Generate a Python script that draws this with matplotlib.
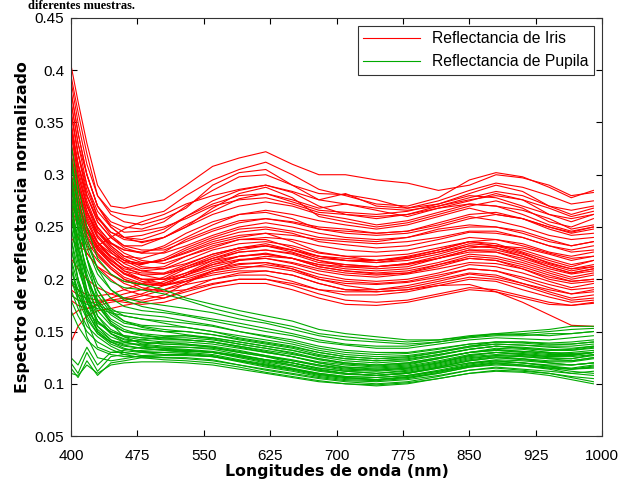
import numpy as np
import matplotlib
matplotlib.use("Agg")
import matplotlib.pyplot as plt

wl = [400, 408, 418, 430, 445, 460, 480, 505, 530, 560, 590, 620,
      650, 680, 710, 745, 780, 815, 850, 880, 910, 940, 965, 990]

# iris reflectance curves
iris = [
    [0.405, 0.37, 0.33, 0.29, 0.27, 0.268, 0.272, 0.276, 0.29, 0.308, 0.316, 0.322, 0.31, 0.30, 0.30, 0.295, 0.292, 0.285, 0.29, 0.30, 0.297, 0.29, 0.28, 0.283],
    [0.39, 0.35, 0.31, 0.28, 0.265, 0.262, 0.26, 0.265, 0.28, 0.295, 0.305, 0.312, 0.30, 0.286, 0.28, 0.272, 0.27, 0.278, 0.295, 0.302, 0.298, 0.288, 0.278, 0.285],
    [0.37, 0.33, 0.30, 0.27, 0.255, 0.25, 0.248, 0.255, 0.27, 0.285, 0.298, 0.30, 0.29, 0.282, 0.281, 0.276, 0.268, 0.275, 0.285, 0.292, 0.288, 0.28, 0.272, 0.275],
    [0.36, 0.32, 0.29, 0.265, 0.25, 0.24, 0.238, 0.245, 0.26, 0.275, 0.285, 0.29, 0.283, 0.27, 0.262, 0.258, 0.262, 0.27, 0.278, 0.284, 0.28, 0.27, 0.262, 0.268],
    [0.35, 0.31, 0.28, 0.255, 0.24, 0.232, 0.232, 0.24, 0.252, 0.265, 0.277, 0.282, 0.276, 0.268, 0.272, 0.266, 0.26, 0.268, 0.275, 0.282, 0.276, 0.262, 0.255, 0.262],
    [0.38, 0.34, 0.30, 0.27, 0.25, 0.24, 0.235, 0.24, 0.25, 0.262, 0.27, 0.274, 0.27, 0.262, 0.258, 0.252, 0.256, 0.264, 0.272, 0.27, 0.266, 0.258, 0.248, 0.252],
    [0.34, 0.30, 0.27, 0.25, 0.235, 0.228, 0.225, 0.232, 0.244, 0.255, 0.262, 0.266, 0.262, 0.256, 0.252, 0.248, 0.252, 0.26, 0.268, 0.262, 0.258, 0.25, 0.244, 0.248],
    [0.33, 0.29, 0.265, 0.245, 0.232, 0.222, 0.22, 0.226, 0.238, 0.248, 0.256, 0.258, 0.255, 0.25, 0.248, 0.244, 0.246, 0.252, 0.26, 0.256, 0.25, 0.242, 0.238, 0.24],
    [0.36, 0.32, 0.28, 0.255, 0.24, 0.23, 0.225, 0.225, 0.232, 0.242, 0.25, 0.254, 0.25, 0.244, 0.24, 0.238, 0.24, 0.248, 0.252, 0.25, 0.246, 0.238, 0.232, 0.236],
    [0.32, 0.29, 0.26, 0.24, 0.228, 0.218, 0.215, 0.218, 0.228, 0.238, 0.245, 0.248, 0.244, 0.236, 0.233, 0.23, 0.232, 0.238, 0.245, 0.244, 0.24, 0.232, 0.226, 0.228],
    [0.35, 0.31, 0.275, 0.25, 0.235, 0.225, 0.218, 0.215, 0.222, 0.232, 0.238, 0.24, 0.238, 0.232, 0.228, 0.226, 0.228, 0.234, 0.24, 0.238, 0.232, 0.225, 0.22, 0.222],
    [0.31, 0.28, 0.255, 0.235, 0.222, 0.212, 0.208, 0.21, 0.218, 0.228, 0.234, 0.236, 0.232, 0.225, 0.222, 0.222, 0.224, 0.23, 0.236, 0.232, 0.228, 0.22, 0.214, 0.218],
    [0.34, 0.30, 0.27, 0.245, 0.23, 0.22, 0.212, 0.21, 0.215, 0.224, 0.23, 0.232, 0.228, 0.222, 0.218, 0.216, 0.218, 0.224, 0.232, 0.23, 0.224, 0.216, 0.21, 0.214],
    [0.30, 0.275, 0.25, 0.232, 0.218, 0.208, 0.204, 0.205, 0.212, 0.22, 0.226, 0.228, 0.225, 0.218, 0.214, 0.212, 0.215, 0.22, 0.228, 0.226, 0.22, 0.212, 0.206, 0.21],
    [0.33, 0.295, 0.265, 0.24, 0.226, 0.215, 0.208, 0.205, 0.21, 0.218, 0.222, 0.224, 0.22, 0.214, 0.21, 0.208, 0.21, 0.216, 0.224, 0.222, 0.216, 0.208, 0.202, 0.206],
    [0.29, 0.265, 0.245, 0.228, 0.215, 0.205, 0.20, 0.20, 0.206, 0.214, 0.219, 0.22, 0.216, 0.21, 0.206, 0.204, 0.206, 0.212, 0.22, 0.218, 0.212, 0.204, 0.198, 0.20],
    [0.32, 0.285, 0.258, 0.236, 0.222, 0.212, 0.204, 0.20, 0.202, 0.21, 0.215, 0.216, 0.212, 0.205, 0.20, 0.198, 0.20, 0.206, 0.214, 0.212, 0.206, 0.198, 0.192, 0.196],
    [0.28, 0.258, 0.24, 0.224, 0.21, 0.20, 0.195, 0.194, 0.20, 0.208, 0.212, 0.212, 0.208, 0.20, 0.196, 0.195, 0.197, 0.202, 0.21, 0.208, 0.20, 0.192, 0.186, 0.19],
    [0.30, 0.275, 0.25, 0.23, 0.216, 0.205, 0.198, 0.195, 0.198, 0.204, 0.208, 0.208, 0.204, 0.196, 0.19, 0.19, 0.192, 0.198, 0.205, 0.202, 0.196, 0.188, 0.182, 0.185],
    [0.27, 0.25, 0.232, 0.218, 0.205, 0.196, 0.19, 0.19, 0.195, 0.20, 0.204, 0.204, 0.198, 0.19, 0.185, 0.185, 0.188, 0.194, 0.20, 0.198, 0.19, 0.183, 0.178, 0.18],
    [0.14, 0.155, 0.165, 0.17, 0.172, 0.175, 0.178, 0.182, 0.19, 0.20, 0.206, 0.208, 0.204, 0.196, 0.19, 0.188, 0.19, 0.196, 0.202, 0.20, 0.194, 0.186, 0.18, 0.182],
    [0.165, 0.17, 0.172, 0.175, 0.178, 0.18, 0.184, 0.19, 0.198, 0.208, 0.214, 0.216, 0.21, 0.202, 0.198, 0.196, 0.198, 0.204, 0.21, 0.208, 0.202, 0.195, 0.19, 0.192],
    [0.185, 0.18, 0.178, 0.178, 0.18, 0.182, 0.186, 0.194, 0.204, 0.214, 0.222, 0.224, 0.22, 0.212, 0.208, 0.206, 0.208, 0.214, 0.222, 0.22, 0.214, 0.206, 0.20, 0.204],
    [0.19, 0.185, 0.182, 0.18, 0.18, 0.178, 0.176, 0.178, 0.184, 0.192, 0.196, 0.196, 0.19, 0.182, 0.176, 0.175, 0.178, 0.184, 0.19, 0.188, 0.182, 0.176, 0.175, 0.178],
    [0.26, 0.24, 0.225, 0.212, 0.20, 0.19, 0.185, 0.182, 0.188, 0.195, 0.20, 0.20, 0.196, 0.19, 0.188, 0.188, 0.19, 0.194, 0.195, 0.188, 0.178, 0.166, 0.156, 0.155],
    [0.22, 0.21, 0.20, 0.192, 0.186, 0.182, 0.18, 0.185, 0.196, 0.208, 0.218, 0.222, 0.22, 0.214, 0.212, 0.212, 0.215, 0.222, 0.23, 0.232, 0.23, 0.224, 0.218, 0.222],
    [0.24, 0.23, 0.228, 0.232, 0.24, 0.248, 0.255, 0.262, 0.272, 0.28, 0.286, 0.29, 0.284, 0.276, 0.272, 0.268, 0.266, 0.27, 0.276, 0.28, 0.276, 0.268, 0.26, 0.265],
    [0.38, 0.34, 0.30, 0.27, 0.252, 0.245, 0.246, 0.25, 0.258, 0.27, 0.276, 0.278, 0.272, 0.264, 0.262, 0.26, 0.262, 0.268, 0.272, 0.27, 0.262, 0.252, 0.246, 0.25],
    [0.29, 0.27, 0.25, 0.235, 0.225, 0.218, 0.215, 0.218, 0.225, 0.234, 0.24, 0.244, 0.242, 0.238, 0.236, 0.234, 0.236, 0.24, 0.246, 0.246, 0.24, 0.232, 0.228, 0.232],
    [0.27, 0.26, 0.245, 0.232, 0.222, 0.216, 0.214, 0.22, 0.23, 0.24, 0.248, 0.25, 0.246, 0.24, 0.238, 0.236, 0.24, 0.246, 0.25, 0.25, 0.244, 0.236, 0.232, 0.236],
    [0.395, 0.36, 0.32, 0.28, 0.262, 0.255, 0.252, 0.258, 0.268, 0.29, 0.302, 0.305, 0.29, 0.276, 0.282, 0.27, 0.268, 0.272, 0.282, 0.29, 0.284, 0.27, 0.266, 0.27],
    [0.37, 0.33, 0.29, 0.26, 0.245, 0.238, 0.236, 0.24, 0.25, 0.268, 0.282, 0.288, 0.278, 0.26, 0.255, 0.25, 0.254, 0.262, 0.27, 0.275, 0.268, 0.255, 0.25, 0.258],
    [0.345, 0.305, 0.272, 0.248, 0.232, 0.222, 0.216, 0.218, 0.226, 0.236, 0.242, 0.244, 0.236, 0.226, 0.222, 0.218, 0.221, 0.228, 0.236, 0.234, 0.226, 0.218, 0.212, 0.218],
    [0.33, 0.295, 0.265, 0.242, 0.228, 0.218, 0.21, 0.212, 0.222, 0.23, 0.238, 0.238, 0.23, 0.222, 0.218, 0.216, 0.22, 0.226, 0.234, 0.232, 0.225, 0.215, 0.21, 0.212],
    [0.30, 0.27, 0.245, 0.228, 0.215, 0.206, 0.20, 0.20, 0.21, 0.22, 0.228, 0.232, 0.226, 0.218, 0.212, 0.21, 0.212, 0.22, 0.226, 0.226, 0.218, 0.21, 0.205, 0.208],
    [0.315, 0.28, 0.255, 0.235, 0.22, 0.208, 0.20, 0.196, 0.204, 0.216, 0.222, 0.225, 0.22, 0.212, 0.208, 0.205, 0.206, 0.214, 0.22, 0.218, 0.21, 0.20, 0.196, 0.198],
    [0.285, 0.262, 0.242, 0.225, 0.212, 0.202, 0.196, 0.194, 0.198, 0.206, 0.21, 0.214, 0.21, 0.20, 0.194, 0.19, 0.194, 0.20, 0.206, 0.204, 0.196, 0.19, 0.186, 0.188],
    [0.18, 0.175, 0.172, 0.176, 0.182, 0.186, 0.19, 0.198, 0.206, 0.218, 0.226, 0.228, 0.224, 0.216, 0.214, 0.212, 0.214, 0.22, 0.228, 0.228, 0.222, 0.214, 0.208, 0.212],
    [0.195, 0.19, 0.185, 0.184, 0.186, 0.19, 0.196, 0.202, 0.212, 0.222, 0.23, 0.234, 0.228, 0.222, 0.22, 0.218, 0.222, 0.228, 0.236, 0.238, 0.234, 0.226, 0.222, 0.226],
    [0.345, 0.31, 0.28, 0.258, 0.245, 0.24, 0.242, 0.248, 0.26, 0.272, 0.28, 0.282, 0.274, 0.266, 0.264, 0.262, 0.265, 0.272, 0.28, 0.278, 0.27, 0.262, 0.258, 0.262],
    [0.31, 0.285, 0.262, 0.245, 0.234, 0.228, 0.226, 0.23, 0.24, 0.252, 0.262, 0.264, 0.258, 0.248, 0.244, 0.242, 0.244, 0.25, 0.258, 0.262, 0.258, 0.248, 0.242, 0.244],
    [0.36, 0.32, 0.285, 0.26, 0.242, 0.232, 0.228, 0.228, 0.236, 0.246, 0.254, 0.258, 0.254, 0.248, 0.246, 0.244, 0.246, 0.254, 0.262, 0.264, 0.258, 0.25, 0.245, 0.25],
    [0.26, 0.24, 0.225, 0.212, 0.204, 0.198, 0.195, 0.196, 0.204, 0.212, 0.218, 0.22, 0.215, 0.208, 0.204, 0.202, 0.205, 0.21, 0.216, 0.215, 0.21, 0.202, 0.198, 0.20],
    [0.30, 0.272, 0.248, 0.23, 0.218, 0.21, 0.206, 0.206, 0.214, 0.224, 0.23, 0.232, 0.228, 0.22, 0.218, 0.218, 0.22, 0.226, 0.232, 0.23, 0.222, 0.212, 0.206, 0.21],
    [0.275, 0.255, 0.236, 0.222, 0.21, 0.20, 0.192, 0.188, 0.19, 0.196, 0.20, 0.20, 0.194, 0.186, 0.18, 0.178, 0.18, 0.186, 0.192, 0.19, 0.184, 0.178, 0.175, 0.177],
]

# pupil reflectance curves
pupila = [
    [0.33, 0.29, 0.25, 0.22, 0.205, 0.198, 0.195, 0.19, 0.182, 0.176, 0.17, 0.165, 0.16, 0.152, 0.148, 0.145, 0.142, 0.142, 0.146, 0.148, 0.15, 0.152, 0.155, 0.155],
    [0.31, 0.27, 0.235, 0.21, 0.198, 0.192, 0.19, 0.186, 0.18, 0.172, 0.166, 0.16, 0.155, 0.148, 0.145, 0.142, 0.14, 0.142, 0.145, 0.147, 0.148, 0.15, 0.152, 0.153],
    [0.30, 0.26, 0.23, 0.205, 0.19, 0.182, 0.178, 0.175, 0.172, 0.168, 0.162, 0.158, 0.152, 0.146, 0.142, 0.14, 0.138, 0.14, 0.144, 0.146, 0.146, 0.148, 0.148, 0.15],
    [0.28, 0.25, 0.22, 0.196, 0.182, 0.174, 0.17, 0.168, 0.165, 0.16, 0.155, 0.15, 0.146, 0.14, 0.137, 0.134, 0.134, 0.138, 0.142, 0.144, 0.143, 0.142, 0.144, 0.146],
    [0.29, 0.255, 0.22, 0.19, 0.172, 0.165, 0.162, 0.16, 0.158, 0.155, 0.15, 0.146, 0.142, 0.136, 0.132, 0.13, 0.13, 0.134, 0.138, 0.14, 0.14, 0.139, 0.14, 0.142],
    [0.27, 0.24, 0.21, 0.185, 0.168, 0.16, 0.156, 0.155, 0.154, 0.15, 0.146, 0.142, 0.138, 0.132, 0.128, 0.126, 0.127, 0.131, 0.136, 0.138, 0.137, 0.136, 0.136, 0.138],
    [0.26, 0.23, 0.20, 0.178, 0.162, 0.155, 0.152, 0.15, 0.15, 0.147, 0.142, 0.138, 0.134, 0.128, 0.124, 0.122, 0.124, 0.128, 0.133, 0.136, 0.134, 0.132, 0.132, 0.135],
    [0.25, 0.22, 0.19, 0.17, 0.156, 0.15, 0.148, 0.146, 0.146, 0.143, 0.138, 0.134, 0.13, 0.124, 0.12, 0.118, 0.12, 0.125, 0.13, 0.133, 0.131, 0.129, 0.13, 0.132],
    [0.24, 0.21, 0.185, 0.165, 0.152, 0.146, 0.144, 0.142, 0.142, 0.14, 0.135, 0.13, 0.126, 0.12, 0.116, 0.115, 0.117, 0.122, 0.128, 0.13, 0.128, 0.126, 0.127, 0.13],
    [0.23, 0.20, 0.178, 0.16, 0.148, 0.142, 0.14, 0.138, 0.138, 0.136, 0.132, 0.127, 0.122, 0.117, 0.113, 0.112, 0.114, 0.119, 0.125, 0.127, 0.126, 0.124, 0.124, 0.127],
    [0.22, 0.195, 0.172, 0.155, 0.145, 0.14, 0.137, 0.135, 0.135, 0.133, 0.128, 0.123, 0.118, 0.113, 0.11, 0.108, 0.111, 0.116, 0.122, 0.125, 0.123, 0.121, 0.121, 0.124],
    [0.21, 0.19, 0.168, 0.152, 0.142, 0.137, 0.134, 0.132, 0.132, 0.13, 0.125, 0.12, 0.115, 0.11, 0.107, 0.106, 0.108, 0.113, 0.119, 0.122, 0.12, 0.118, 0.118, 0.12],
    [0.20, 0.18, 0.162, 0.148, 0.14, 0.134, 0.13, 0.128, 0.128, 0.126, 0.121, 0.116, 0.112, 0.107, 0.104, 0.103, 0.105, 0.11, 0.116, 0.119, 0.117, 0.115, 0.114, 0.116],
    [0.19, 0.172, 0.155, 0.145, 0.136, 0.13, 0.127, 0.125, 0.125, 0.123, 0.118, 0.113, 0.109, 0.105, 0.102, 0.10, 0.102, 0.107, 0.113, 0.116, 0.114, 0.112, 0.11, 0.112],
    [0.18, 0.165, 0.15, 0.14, 0.133, 0.128, 0.125, 0.123, 0.122, 0.12, 0.116, 0.111, 0.107, 0.103, 0.10, 0.098, 0.10, 0.105, 0.11, 0.113, 0.112, 0.11, 0.107, 0.105],
    [0.115, 0.106, 0.122, 0.108, 0.12, 0.122, 0.125, 0.125, 0.124, 0.122, 0.118, 0.114, 0.11, 0.106, 0.103, 0.102, 0.104, 0.108, 0.113, 0.115, 0.113, 0.11, 0.106, 0.102],
    [0.12, 0.11, 0.13, 0.112, 0.126, 0.128, 0.13, 0.13, 0.129, 0.127, 0.122, 0.118, 0.114, 0.11, 0.107, 0.106, 0.108, 0.112, 0.117, 0.12, 0.118, 0.115, 0.112, 0.11],
    [0.125, 0.118, 0.135, 0.118, 0.13, 0.132, 0.135, 0.134, 0.132, 0.13, 0.126, 0.121, 0.117, 0.112, 0.109, 0.108, 0.11, 0.115, 0.12, 0.122, 0.12, 0.117, 0.115, 0.118],
    [0.32, 0.27, 0.22, 0.18, 0.158, 0.145, 0.138, 0.136, 0.135, 0.134, 0.13, 0.126, 0.122, 0.118, 0.115, 0.113, 0.115, 0.12, 0.126, 0.128, 0.127, 0.125, 0.124, 0.128],
    [0.30, 0.25, 0.20, 0.165, 0.148, 0.14, 0.136, 0.134, 0.133, 0.131, 0.127, 0.123, 0.12, 0.115, 0.112, 0.11, 0.112, 0.117, 0.123, 0.126, 0.124, 0.122, 0.122, 0.125],
    [0.28, 0.23, 0.19, 0.155, 0.142, 0.138, 0.138, 0.14, 0.14, 0.138, 0.134, 0.13, 0.126, 0.121, 0.118, 0.116, 0.118, 0.124, 0.13, 0.132, 0.13, 0.128, 0.128, 0.13],
    [0.26, 0.22, 0.18, 0.15, 0.14, 0.14, 0.142, 0.145, 0.146, 0.144, 0.14, 0.136, 0.132, 0.126, 0.122, 0.12, 0.122, 0.127, 0.133, 0.136, 0.134, 0.132, 0.133, 0.136],
    [0.20, 0.19, 0.18, 0.175, 0.17, 0.168, 0.166, 0.164, 0.16, 0.156, 0.15, 0.145, 0.14, 0.134, 0.13, 0.128, 0.129, 0.133, 0.138, 0.14, 0.14, 0.138, 0.138, 0.14],
    [0.185, 0.18, 0.176, 0.172, 0.168, 0.165, 0.162, 0.158, 0.154, 0.15, 0.144, 0.14, 0.136, 0.13, 0.126, 0.124, 0.126, 0.13, 0.135, 0.138, 0.137, 0.135, 0.134, 0.136],
    [0.24, 0.20, 0.16, 0.135, 0.13, 0.13, 0.132, 0.133, 0.132, 0.13, 0.126, 0.122, 0.118, 0.113, 0.11, 0.108, 0.11, 0.115, 0.12, 0.123, 0.122, 0.12, 0.118, 0.12],
    [0.22, 0.18, 0.145, 0.125, 0.122, 0.124, 0.127, 0.128, 0.128, 0.126, 0.122, 0.117, 0.113, 0.108, 0.105, 0.104, 0.106, 0.111, 0.117, 0.12, 0.118, 0.116, 0.114, 0.115],
    [0.30, 0.26, 0.22, 0.19, 0.17, 0.16, 0.154, 0.15, 0.147, 0.144, 0.14, 0.136, 0.132, 0.127, 0.124, 0.122, 0.123, 0.128, 0.133, 0.136, 0.135, 0.133, 0.132, 0.134],
    [0.27, 0.235, 0.20, 0.175, 0.16, 0.152, 0.147, 0.144, 0.142, 0.14, 0.136, 0.132, 0.128, 0.124, 0.12, 0.118, 0.12, 0.125, 0.13, 0.132, 0.131, 0.13, 0.129, 0.13],
    [0.315, 0.28, 0.24, 0.21, 0.19, 0.18, 0.174, 0.17, 0.166, 0.162, 0.158, 0.153, 0.148, 0.142, 0.138, 0.136, 0.136, 0.14, 0.145, 0.148, 0.147, 0.146, 0.148, 0.15],
    [0.25, 0.215, 0.182, 0.16, 0.15, 0.145, 0.142, 0.14, 0.138, 0.135, 0.13, 0.126, 0.12, 0.114, 0.11, 0.108, 0.11, 0.116, 0.122, 0.125, 0.124, 0.12, 0.118, 0.12],
    [0.23, 0.20, 0.17, 0.15, 0.14, 0.136, 0.134, 0.132, 0.13, 0.128, 0.123, 0.119, 0.114, 0.109, 0.106, 0.104, 0.107, 0.112, 0.118, 0.121, 0.12, 0.117, 0.114, 0.117],
    [0.21, 0.185, 0.165, 0.148, 0.138, 0.133, 0.131, 0.13, 0.131, 0.13, 0.127, 0.123, 0.12, 0.115, 0.112, 0.11, 0.113, 0.118, 0.124, 0.127, 0.126, 0.124, 0.122, 0.125],
    [0.29, 0.245, 0.205, 0.175, 0.158, 0.15, 0.146, 0.144, 0.144, 0.142, 0.138, 0.134, 0.129, 0.123, 0.119, 0.117, 0.119, 0.124, 0.13, 0.134, 0.133, 0.13, 0.128, 0.13],
    [0.27, 0.225, 0.185, 0.16, 0.148, 0.143, 0.14, 0.138, 0.137, 0.135, 0.131, 0.127, 0.123, 0.118, 0.114, 0.113, 0.115, 0.12, 0.127, 0.13, 0.128, 0.126, 0.126, 0.128],
    [0.17, 0.155, 0.142, 0.133, 0.128, 0.126, 0.126, 0.127, 0.127, 0.126, 0.122, 0.118, 0.114, 0.109, 0.106, 0.104, 0.106, 0.11, 0.116, 0.118, 0.117, 0.114, 0.11, 0.108],
    [0.11, 0.108, 0.118, 0.11, 0.118, 0.12, 0.121, 0.121, 0.12, 0.118, 0.114, 0.11, 0.106, 0.102, 0.10, 0.099, 0.101, 0.105, 0.11, 0.112, 0.111, 0.108, 0.104, 0.10],
    [0.20, 0.185, 0.17, 0.158, 0.15, 0.146, 0.144, 0.143, 0.142, 0.14, 0.136, 0.131, 0.126, 0.12, 0.116, 0.114, 0.116, 0.121, 0.127, 0.13, 0.129, 0.127, 0.127, 0.13],
    [0.26, 0.23, 0.20, 0.18, 0.166, 0.158, 0.155, 0.152, 0.15, 0.147, 0.143, 0.139, 0.135, 0.13, 0.126, 0.124, 0.125, 0.13, 0.136, 0.14, 0.139, 0.137, 0.138, 0.14],
]

xticks = [400, 475, 550, 625, 700, 775, 850, 925, 1000]
yticks = [0.05, 0.1, 0.15, 0.2, 0.25, 0.3, 0.35, 0.4, 0.45]

red = "#ff0000"
green = "#00aa00"

fig = plt.figure(figsize=(6.28, 4.84), dpi=100)
ax = fig.add_axes([0.113, 0.099, 0.846, 0.864])

for i, c in enumerate(iris):
    ax.plot(wl, c, color=red, lw=0.8, label="Reflectancia de Iris" if i == 0 else None)
for i, c in enumerate(pupila):
    ax.plot(wl, c, color=green, lw=0.8, label="Reflectancia de Pupila" if i == 0 else None)

ax.set_xlim(400, 1000)
ax.set_ylim(0.05, 0.45)
ax.set_xticks(xticks)
ax.set_yticks(yticks)
ax.set_xticklabels([str(t) for t in xticks])
ax.set_yticklabels(["%g" % t for t in yticks])
ax.tick_params(direction="in", top=True, right=True, length=4, width=0.8,
               labelsize=11, pad=5)
ax.tick_params(axis="x", pad=9)
for lab in ax.get_xticklabels() + ax.get_yticklabels():
    lab.set_family("Liberation Sans")
for s in ax.spines.values():
    s.set_linewidth(0.8)
    s.set_color("#333333")

ax.set_xlabel("Longitudes de onda (nm)", fontsize=11.3, fontweight="bold", labelpad=1)
ax.set_ylabel("Espectro de reflectancia normalizado", fontsize=11.3, fontweight="bold", labelpad=3)

leg = ax.legend(loc="upper right", frameon=True, fancybox=False,
                borderpad=0.35, handlelength=3.6, borderaxespad=0.5,
                prop={"family": "Liberation Sans", "size": 11.3})
leg.get_frame().set_edgecolor("black")
leg.get_frame().set_linewidth(0.8)

# caption line from the page above the figure
fig.text(0.045, 0.999, "diferentes muestras.", family="Liberation Serif",
         fontsize=9, fontweight="bold", va="top")

fig.savefig("out.png", dpi=100)
